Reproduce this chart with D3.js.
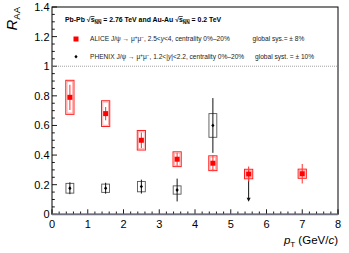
<!DOCTYPE html>
<html><head><meta charset="utf-8">
<script src="https://cdn.jsdelivr.net/npm/d3@7"></script>
<style>body{margin:0;background:#fff}svg{display:block;font-family:"Liberation Sans",Arial,sans-serif}</style>
</head><body>
<svg id="c" width="349" height="253"></svg>
<script>
const ptAlice   = [0.5, 1.5, 2.5, 3.5, 4.5, 5.5, 7];
const raaAlice  = [0.79, 0.68, 0.50, 0.372, 0.345, 0.272, 0.274];
const statAlice = [0.085, 0.045, 0.053, 0.044, 0.055, 0.05, 0.066];
const sysAlice  = [0.115, 0.087, 0.066, 0.05, 0.05, 0.032, 0.031];

const ptPhenix   = [0.5, 1.5, 2.5, 3.5, 4.5];
const raaPhenix  = [0.176, 0.176, 0.187, 0.164, 0.60];
const statPhenix = [0.04, 0.037, 0.047, 0.077, 0.185];
const sysPhenix  = [0.033, 0.028, 0.035, 0.028, 0.08];
const limitPt = [5.5];
const limitTop = [0.30];
const limitTip = [0.085];

const xTicks = [0,1,2,3,4,5,6,7,8];
const yTicks = [0,0.2,0.4,0.6,0.8,1,1.2,1.4];
const yTickLabels = ["0","0.2","0.4","0.6","0.8","1","1.2","1.4"];

const svg = d3.select("#c");
const x = d3.scaleLinear().domain([0,8]).range([52,338]);
const y = d3.scaleLinear().domain([0,1.4]).range([214.3,7]);
const L=x(0),R=x(8),T=y(1.4),B=y(0);

// frame
svg.append("rect").attr("x",L).attr("y",T).attr("width",R-L).attr("height",B-T)
  .attr("fill","none").attr("stroke","#000").attr("stroke-width",1);

// ticks
const xMinor = d3.range(0,8.001,0.2);
svg.append("g").selectAll("line").data(xMinor).join("line")
  .attr("x1",d=>x(d)).attr("x2",d=>x(d)).attr("y1",B)
  .attr("y2",d=>B-(Math.abs(d-Math.round(d))<1e-6?5:2.8))
  .attr("stroke","#000").attr("stroke-width",0.9);
const yMinor = d3.range(0,1.4001,0.05);
svg.append("g").selectAll("line").data(yMinor).join("line")
  .attr("y1",d=>y(d)).attr("y2",d=>y(d)).attr("x1",L)
  .attr("x2",d=>L+(Math.abs(d*5-Math.round(d*5))<1e-6?5:2.8))
  .attr("stroke","#000").attr("stroke-width",0.9);
svg.append("line").attr("x1",L).attr("x2",R).attr("y1",B).attr("y2",B)
  .attr("stroke","#707080").attr("stroke-width",1.8);

// tick labels
svg.append("g").selectAll("text").data(xTicks).join("text")
  .attr("x",d=>x(d)).attr("y",228.3).attr("text-anchor","middle")
  .attr("font-size",11).text(d=>d);
svg.append("g").selectAll("text").data(yTicks).join("text")
  .attr("x",49.5).attr("y",d=>y(d)+3.9).attr("text-anchor","end")
  .attr("font-size",11).text((d,i)=>yTickLabels[i]);

// axis titles
const xt = svg.append("text").attr("x",338).attr("y",244).attr("text-anchor","end").attr("font-size",11.5);
xt.append("tspan").attr("font-style","italic").text("p");
xt.append("tspan").attr("font-size",8).attr("dy",3).text("T");
xt.append("tspan").attr("dy",-3).text(" (GeV/");
xt.append("tspan").attr("font-style","italic").text("c");
xt.append("tspan").text(")");

const yt = svg.append("text").attr("transform","translate(17,7) rotate(-90)")
  .attr("text-anchor","end").attr("font-size",15);
yt.append("tspan").attr("font-style","italic").text("R");
yt.append("tspan").attr("font-size",9.5).attr("dy",3).text("AA");

// dotted line at 1
svg.append("line").attr("x1",L).attr("x2",R).attr("y1",y(1)).attr("y2",y(1))
  .attr("stroke","#888").attr("stroke-width",0.8).attr("stroke-dasharray","1,1");

// PHENIX
const ph = ptPhenix.map((p,i)=>({p,v:raaPhenix[i],s:statPhenix[i],sy:sysPhenix[i]}));
const gp = svg.append("g");
gp.selectAll("rect").data(ph).join("rect")
  .attr("x",d=>x(d.p-0.11)).attr("width",d=>x(d.p+0.11)-x(d.p-0.11))
  .attr("y",d=>y(d.v+d.sy)).attr("height",d=>y(d.v-d.sy)-y(d.v+d.sy))
  .attr("fill","none").attr("stroke","#555").attr("stroke-width",0.9);
gp.selectAll("line").data(ph).join("line")
  .attr("x1",d=>x(d.p)).attr("x2",d=>x(d.p)).attr("y1",d=>y(d.v+d.s)).attr("y2",d=>y(d.v-d.s))
  .attr("stroke","#111").attr("stroke-width",1);
gp.selectAll("path").data(ph).join("path")
  .attr("d",d=>`M${x(d.p)},${y(d.v)-1.9}l1.6,1.9l-1.6,1.9l-1.6,-1.9z`).attr("fill","#000");

// upper limit
const gl = svg.append("g");
gl.selectAll("line").data(limitPt).join("line")
  .attr("x1",d=>x(d)).attr("x2",d=>x(d)).attr("y1",(d,i)=>y(limitTop[i])).attr("y2",(d,i)=>y(limitTip[i])-3)
  .attr("stroke","#111").attr("stroke-width",1);
gl.selectAll("path").data(limitPt).join("path")
  .attr("d",(d,i)=>`M${x(d)-2},${y(limitTip[i])-4}L${x(d)+2},${y(limitTip[i])-4}L${x(d)},${y(limitTip[i])}z`)
  .attr("fill","#111");

// ALICE
const al = ptAlice.map((p,i)=>({p,v:raaAlice[i],s:statAlice[i],sy:sysAlice[i]}));
const ga = svg.append("g");
ga.selectAll("rect.o").data(al).join("rect").attr("class","o")
  .attr("x",d=>x(d.p-0.115)).attr("width",d=>x(d.p+0.115)-x(d.p-0.115))
  .attr("y",d=>y(d.v+d.sy)).attr("height",d=>y(d.v-d.sy)-y(d.v+d.sy))
  .attr("fill","none").attr("stroke","#ff2020").attr("stroke-width",1);
ga.selectAll("rect.i").data(al).join("rect").attr("class","i")
  .attr("x",d=>x(d.p-0.115)+1.3).attr("width",d=>x(d.p+0.115)-x(d.p-0.115)-2.6)
  .attr("y",d=>y(d.v+d.sy)+1.3).attr("height",d=>y(d.v-d.sy)-y(d.v+d.sy)-2.6)
  .attr("fill","none").attr("stroke","rgba(255,60,60,0.5)").attr("stroke-width",0.8);
ga.selectAll("line").data(al).join("line")
  .attr("x1",d=>x(d.p)).attr("x2",d=>x(d.p)).attr("y1",d=>y(d.v+d.s)).attr("y2",d=>y(d.v-d.s))
  .attr("stroke","#ff4040").attr("stroke-width",1.1);
ga.selectAll("rect.m").data(al).join("rect").attr("class","m")
  .attr("x",d=>x(d.p)-2.5).attr("y",d=>y(d.v)-2.5).attr("width",5).attr("height",5).attr("fill","#ff0000");

// legend
const lt = svg.append("text").attr("x",65).attr("y",22).attr("font-size",6.9).attr("font-weight","bold");
lt.append("tspan").text("Pb-Pb ");
lt.append("tspan").text("\u221A");
lt.append("tspan").attr("text-decoration","overline").text("s");
lt.append("tspan").attr("font-size",4.8).attr("dy",1.5).attr("text-decoration","overline").text("NN");
lt.append("tspan").attr("dy",-1.5).text(" = 2.76 TeV and Au-Au ");
lt.append("tspan").text("\u221A");
lt.append("tspan").attr("text-decoration","overline").text("s");
lt.append("tspan").attr("font-size",4.8).attr("dy",1.5).attr("text-decoration","overline").text("NN");
lt.append("tspan").attr("dy",-1.5).text(" = 0.2 TeV");

svg.append("rect").attr("x",73.5).attr("y",36.5).attr("width",5).attr("height",5).attr("fill","#ff0000");
svg.append("path").attr("d","M76,54.8l1.6,1.9l-1.6,1.9l-1.6,-1.9z").attr("fill","#000");

const t1 = svg.append("text").attr("x",90).attr("y",41.2).attr("font-size",6.6).attr("fill","#222");
t1.append("tspan").text("ALICE J/\u03C8 \u2192 \u03BC");
t1.append("tspan").attr("font-size",4.6).attr("dy",-2).text("+");
t1.append("tspan").attr("dy",2).text("\u03BC");
t1.append("tspan").attr("font-size",4.6).attr("dy",-2).text("\u2212");
t1.append("tspan").attr("dy",2).text(", 2.5<");
t1.append("tspan").attr("font-style","italic").text("y");
t1.append("tspan").text("<4, centrality 0%\u201320%");
svg.append("text").attr("x",252.5).attr("y",41.2).attr("font-size",6.6).attr("fill","#222").text("global sys.= \u00B1 8%");

const t2 = svg.append("text").attr("x",90).attr("y",59).attr("font-size",6.6).attr("fill","#222");
t2.append("tspan").text("PHENIX J/\u03C8 \u2192 \u03BC");
t2.append("tspan").attr("font-size",4.6).attr("dy",-2).text("+");
t2.append("tspan").attr("dy",2).text("\u03BC");
t2.append("tspan").attr("font-size",4.6).attr("dy",-2).text("\u2212");
t2.append("tspan").attr("dy",2).text(", 1.2<|");
t2.append("tspan").attr("font-style","italic").text("y");
t2.append("tspan").text("|<2.2, centrality 0%\u201320%");
svg.append("text").attr("x",255).attr("y",59).attr("font-size",6.6).attr("fill","#222").text("global syst. = \u00B1 10%");
</script>
</body></html>
